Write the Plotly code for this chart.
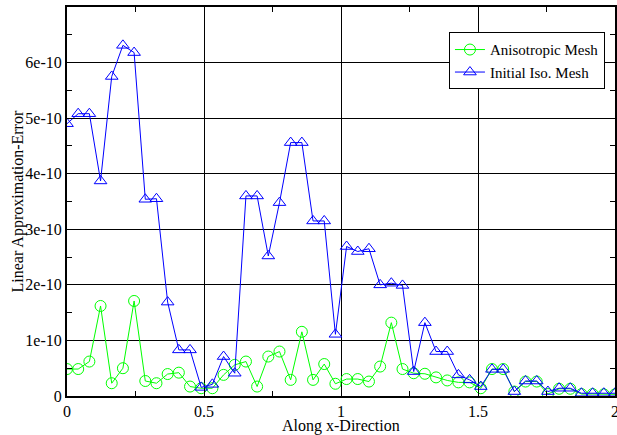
import numpy as np
import plotly.graph_objects as go

# x positions (50 equally spaced samples along x)
x_vals = np.linspace(0, 2, 50)

# errors in units of 1e-10
aniso_err = [0.485, 0.485, 0.62, 1.62, 0.23, 0.50, 1.71, 0.27, 0.23, 0.395,
             0.42, 0.17, 0.14, 0.14, 0.38, 0.56, 0.62, 0.17, 0.71, 0.80,
             0.29, 1.155, 0.29, 0.575, 0.22, 0.305, 0.305, 0.26, 0.53, 1.32,
             0.485, 0.41, 0.40, 0.335, 0.28, 0.245, 0.245, 0.14, 0.485, 0.485,
             0.08, 0.26, 0.26, 0.035, 0.13, 0.13, 0.035, 0.035, 0.03, 0.03]
iso_err = [4.90, 5.08, 5.08, 3.87, 5.75, 6.31, 6.18, 3.54, 3.55, 1.69,
           0.83, 0.83, 0.155, 0.21, 0.71, 0.41, 3.60, 3.60, 2.52, 3.48,
           4.56, 4.56, 3.15, 3.15, 1.11, 2.69, 2.60, 2.65, 2.00, 2.03,
           1.99, 0.44, 1.32, 0.80, 0.80, 0.38, 0.29, 0.17, 0.48, 0.48,
           0.08, 0.27, 0.27, 0.08, 0.14, 0.14, 0.05, 0.05, 0.05, 0.05]
scale = 1e-10

x_tickvals = [0, 0.5, 1, 1.5, 2]
x_ticktext = ["0", "0.5", "1", "1.5", "2"]
y_tickvals = [0, 1e-10, 2e-10, 3e-10, 4e-10, 5e-10, 6e-10]
y_ticktext = ["0", "1e-10", "2e-10", "3e-10", "4e-10", "5e-10", "6e-10"]
x_title = "Along x-Direction"
y_title = "Linear Approximation-Error"

font_family = "Liberation Serif, Times New Roman, serif"

fig = go.Figure()
fig.add_trace(go.Scatter(
    x=x_vals, y=np.array(aniso_err) * scale, mode="lines+markers",
    name="Anisotropic Mesh",
    line=dict(color="#00ff00", width=1),
    marker=dict(symbol="circle-open", size=11, color="#00ff00", line=dict(width=1)),
))
fig.add_trace(go.Scatter(
    x=x_vals, y=np.array(iso_err) * scale, mode="lines+markers",
    name="Initial Iso. Mesh",
    line=dict(color="#0000ff", width=1),
    marker=dict(symbol="triangle-up-open", size=11, color="#0000ff", line=dict(width=1)),
))

axis_common = dict(
    showline=True, linecolor="black", linewidth=2, mirror="allticks",
    ticks="inside", ticklen=8, tickcolor="black", tickwidth=1,
    showgrid=True, gridcolor="black", gridwidth=1, zeroline=False,
    tickfont=dict(family=font_family, size=16, color="black"),
    minor=dict(ticks="inside", ticklen=5, tickcolor="black", showgrid=False),
    automargin=False, ticklabeloverflow="allow",
)

fig.update_xaxes(range=[0, 2], tickmode="array", tickvals=x_tickvals,
                 ticktext=x_ticktext, **axis_common)
fig.update_yaxes(range=[0, 7e-10], tickmode="array", tickvals=y_tickvals,
                 ticktext=y_ticktext, **axis_common)
fig.update_xaxes(minor=dict(tickvals=[0.25, 0.75, 1.25, 1.75]))
fig.update_yaxes(minor=dict(tickvals=[0.5e-10, 1.5e-10, 2.5e-10, 3.5e-10, 4.5e-10, 5.5e-10, 6.5e-10]))

fig.add_annotation(text=x_title, xref="paper", yref="paper", x=0.5, y=0,
                   yshift=-30, xanchor="center", yanchor="middle", showarrow=False,
                   font=dict(family=font_family, size=16, color="black"))
fig.add_annotation(text=y_title, xref="paper", yref="paper", x=0, y=0.5,
                   xshift=-50, xanchor="center", yanchor="middle", showarrow=False,
                   textangle=-90, font=dict(family=font_family, size=16, color="black"))

fig.update_layout(
    width=617, height=435,
    margin=dict(l=67, r=2, t=7, b=39),
    paper_bgcolor="white", plot_bgcolor="white",
    font=dict(family=font_family, color="black"),
    legend=dict(
        x=0.697, y=0.935, xanchor="left", yanchor="top",
        bgcolor="white", bordercolor="black", borderwidth=1,
        font=dict(family=font_family, size=15, color="black"),
        tracegroupgap=0,
    ),
    showlegend=True,
)

fig.write_html("out.html", config={"displayModeBar": False},
               post_script="document.body.style.margin='0px';document.body.style.overflow='hidden';")
